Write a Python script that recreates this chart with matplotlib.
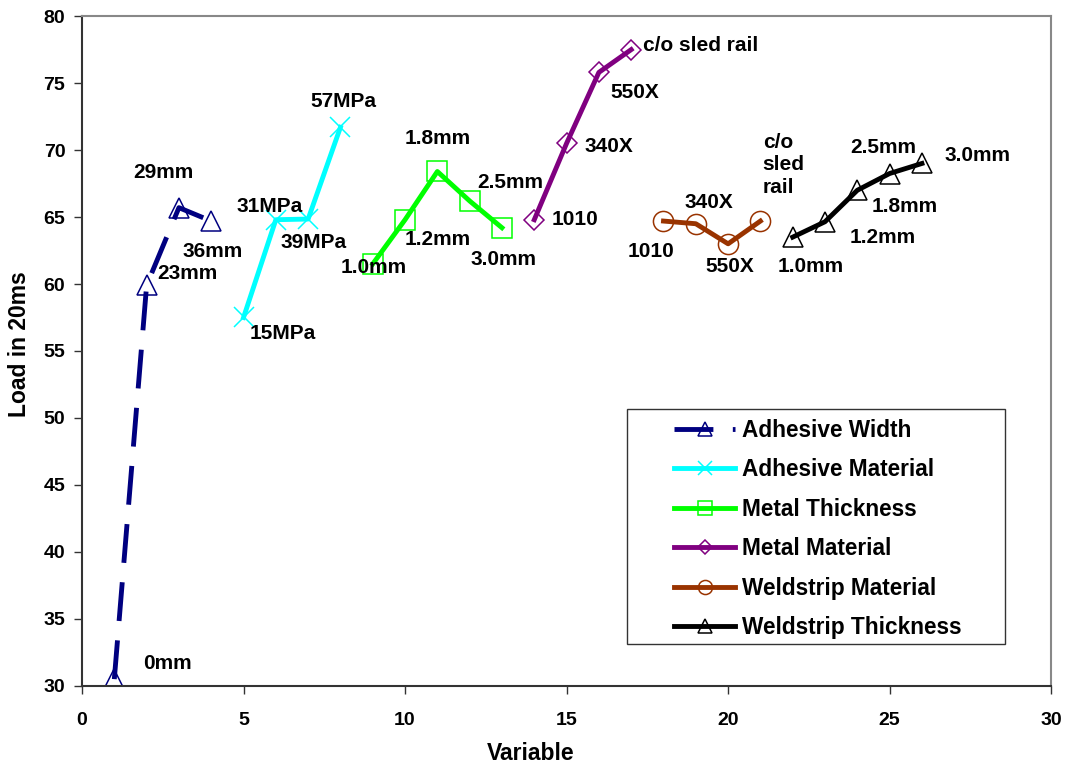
import matplotlib
matplotlib.use("Agg")
import matplotlib.pyplot as plt
from matplotlib.patches import Rectangle

plt.rcParams['font.family'] = ['Liberation Sans', 'DejaVu Sans']
plt.rcParams['font.weight'] = 'bold'

# --- data -----------------------------------------------------------------
aw_x = [1, 2, 3, 4]
aw_y = [30.5, 59.9, 65.7, 64.7]
am_x = [5, 6, 7, 8]
am_y = [57.5, 64.8, 64.85, 71.7]
mt_x = [9, 10, 11, 12, 13]
mt_y = [61.5, 64.8, 68.4, 66.2, 64.2]
mm_x = [14, 15, 16, 17]
mm_y = [64.8, 70.5, 75.8, 77.5]
wm_x = [18, 19, 20, 21]
wm_y = [64.7, 64.5, 63.0, 64.7]
wt_x = [22, 23, 24, 25, 26]
wt_y = [63.5, 64.65, 67.0, 68.25, 69.0]

# point labels: (text, x, y)
labels = [
    ("0mm", 1.89, 31.7), ("23mm", 2.32, 60.8), ("29mm", 1.58, 68.3),
    ("36mm", 3.1, 62.4),
    ("31MPa", 4.77, 65.75), ("39MPa", 6.14, 63.1), ("15MPa", 5.2, 56.3),
    ("57MPa", 7.07, 73.65),
    ("1.0mm", 8.0, 61.2), ("1.2mm", 9.98, 63.3), ("1.8mm", 9.98, 70.9),
    ("2.5mm", 12.24, 67.6), ("3.0mm", 12.02, 61.8),
    ("1010", 14.53, 64.8), ("340X", 15.56, 70.3), ("550X", 16.36, 74.3),
    ("c/o sled rail", 17.38, 77.8),
    ("1010", 16.89, 62.4), ("340X", 18.65, 66.1), ("550X", 19.3, 61.3),
    ("c/o\nsled\nrail", 21.07, 68.9),
    ("1.0mm", 21.54, 61.3), ("1.2mm", 23.77, 63.5), ("1.8mm", 24.45, 65.75),
    ("2.5mm", 23.77, 70.2), ("3.0mm", 26.7, 69.6),
]

fig = plt.figure(figsize=(10.65, 7.68), dpi=100)
ax = fig.add_axes([0.077, 0.107, 0.91, 0.872])

lw = 3.5
mk = dict(mfc="none", mew=1.1)
ax.plot(aw_x, aw_y, color="#000080", lw=lw, ls=(0, (8, 4)), marker="^",
        ms=14.5, label="Adhesive Width", **mk)
ax.plot(am_x, am_y, color="#00FFFF", lw=lw, marker="x",
        ms=14.5, mew=1.1, label="Adhesive Material")
ax.plot(mt_x, mt_y, color="#00FF00", lw=lw, marker="s",
        ms=15, label="Metal Thickness", **mk)
ax.plot(mm_x, mm_y, color="#800080", lw=lw, marker="D",
        ms=10.5, label="Metal Material", **mk)
ax.plot(wm_x, wm_y, color="#993300", lw=lw, marker="o",
        ms=14.5, label="Weldstrip Material", **mk)
ax.plot(wt_x, wt_y, color="black", lw=lw, marker="^",
        ms=14.5, label="Weldstrip Thickness", **mk)

for txt, x, y in labels:
    ax.text(x, y, txt, fontsize=15, fontweight="bold", ha="left",
            va="center", linespacing=1.25)

ax.set_xlim(0, 30)
ax.set_ylim(30, 80)
ax.set_xticks(range(0, 31, 5))
ax.set_yticks(range(30, 81, 5))
ax.tick_params(labelsize=14, direction="out", length=6, width=1,
               color="#333333")
ax.tick_params(axis="x", pad=13)
ax.tick_params(axis="y", pad=6)
for t in ax.get_xticklabels() + ax.get_yticklabels():
    t.set_fontweight("bold")
ax.set_xlabel("Variable", fontsize=16.5, fontweight="bold")
ax.set_ylabel("Load in 20ms", fontsize=16.5, fontweight="bold")
ax.xaxis.set_label_coords(0.463, -0.1015)
ax.xaxis.label.set_va("center")
ax.yaxis.set_label_coords(-0.064, 0.51)
ax.yaxis.label.set_va("center")
for s in ("top", "right"):
    ax.spines[s].set_color("#888888")
    ax.spines[s].set_linewidth(1.5)
for s in ("left", "bottom"):
    ax.spines[s].set_color("#333333")
    ax.spines[s].set_linewidth(1.5)

# legend frame drawn separately so the key lines can sit indented
ax.add_patch(Rectangle((0.5624, 0.0627), 0.3901, 0.3507, transform=ax.transAxes,
                       facecolor="white", edgecolor="#333333", lw=1.0,
                       zorder=4))
leg = ax.legend(loc="upper left", bbox_to_anchor=(0.611, 0.399),
                fontsize=16.3, handlelength=2.7, handletextpad=0.31,
                labelspacing=0.73, borderpad=0, borderaxespad=0,
                frameon=False, markerscale=0.7)
leg.set_zorder(5)
for t in leg.get_texts():
    t.set_fontweight("bold")

fig.savefig("out.png", dpi=100)
